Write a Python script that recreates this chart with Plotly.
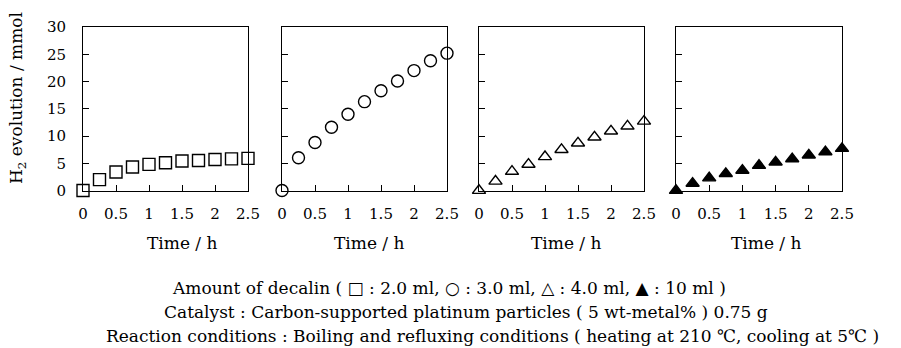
import plotly.graph_objects as go

# ---- data ----
time_h = [0, 0.25, 0.5, 0.75, 1.0, 1.25, 1.5, 1.75, 2.0, 2.25, 2.5]
h2_decalin_2ml = [0, 2.0, 3.4, 4.3, 4.8, 5.1, 5.4, 5.5, 5.7, 5.8, 5.9]
h2_decalin_3ml = [0, 6.0, 8.8, 11.6, 14.0, 16.3, 18.3, 20.1, 22.0, 23.8, 25.2]
h2_decalin_4ml = [0, 1.7, 3.5, 4.8, 6.2, 7.5, 8.7, 9.8, 10.9, 11.8, 12.7]
h2_decalin_10ml = [0, 1.3, 2.3, 3.1, 3.7, 4.6, 5.2, 5.8, 6.5, 7.1, 7.7]

x_tickvals = [0, 0.5, 1.0, 1.5, 2.0, 2.5]
x_ticktext = ["0", "0.5", "1", "1.5", "2", "2.5"]
y_tickvals = [0, 5, 10, 15, 20, 25, 30]
y_ticktext = ["0", "5", "10", "15", "20", "25", "30"]

x_title = "Time / h"
y_title = "H<sub>2</sub> evolution / mmol"
caption_lines = [
    "Amount of decalin ( □ : 2.0 ml, ○ : 3.0 ml, △ : 4.0 ml, ▲ : 10 ml )",
    "Catalyst : Carbon-supported platinum particles ( 5 wt-metal% ) 0.75 g",
    "Reaction conditions : Boiling and refluxing conditions ( heating at 210 ℃, cooling at 5℃ )",
]

series = [
    (h2_decalin_2ml, "square-open", 12),
    (h2_decalin_3ml, "circle-open", 12),
    (h2_decalin_4ml, "triangle-up-open", 11.5),
    (h2_decalin_10ml, "triangle-up", 11.5),
]

# ---- layout geometry (window pixels; body margin removed below) ----
FW, FH = 901, 348
FONT = "DejaVu Serif"


def fx(px):
    return px / FW


def fy(py):
    return 1 - py / FH


panels_px = [(83, 248), (282, 447), (479, 644), (676, 842)]
y_top_px, y_bot_px = 27, 190.5
xtitle_px = [182, 369, 566, 766]

fig = go.Figure()
layout = dict(
    width=FW, height=FH,
    margin=dict(l=0, r=0, t=0, b=0, autoexpand=False),
    paper_bgcolor="white", plot_bgcolor="white",
    showlegend=False,
    font=dict(family=FONT, size=15, color="black"),
)

ydom = [fy(y_bot_px), fy(y_top_px)]
annotations = []
for i, ((vals, sym, sz), (x0, x1)) in enumerate(zip(series, panels_px)):
    n = "" if i == 0 else str(i + 1)
    fig.add_trace(go.Scatter(
        x=time_h, y=vals, mode="markers", cliponaxis=False,
        xaxis="x" + n, yaxis="y" + n,
        marker=dict(symbol=sym, size=sz, color="black",
                    line=dict(color="black", width=1.4)),
    ))
    layout["xaxis" + n] = dict(
        domain=[fx(x0), fx(x1)], range=[0, 2.5], anchor="y" + n,
        tickvals=x_tickvals, ticktext=x_ticktext,
        ticks="inside", ticklen=6, tickcolor="black", tickwidth=1,
        showline=True, mirror=True, linecolor="black", linewidth=1,
        showgrid=False, zeroline=False, ticklabelstandoff=9,
        tickfont=dict(family=FONT, size=15, color="black"),
    )
    layout["yaxis" + n] = dict(
        domain=ydom, range=[0, 30], anchor="x" + n,
        tickvals=y_tickvals, ticktext=y_ticktext,
        ticks="inside", ticklen=6, tickcolor="black", tickwidth=1,
        showline=True, mirror=True, linecolor="black", linewidth=1,
        showgrid=False, zeroline=False,
        showticklabels=(i == 0), ticklabelstandoff=13,
        tickfont=dict(family=FONT, size=15, color="black"),
    )
    annotations.append(dict(
        text=x_title, xref="paper", yref="paper",
        x=fx(xtitle_px[i]), y=fy(243), xanchor="center", yanchor="middle",
        showarrow=False, font=dict(family=FONT, size=17, color="black"),
    ))

annotations.append(dict(
    text=y_title, xref="paper", yref="paper", textangle=-90,
    x=fx(18), y=fy(98), xanchor="center", yanchor="middle",
    showarrow=False, font=dict(family=FONT, size=17, color="black"),
))

caption_left = [170, 162, 104]
caption_y = [288, 312, 336]
for txt, xl, yc in zip(caption_lines, caption_left, caption_y):
    annotations.append(dict(
        text=txt, xref="paper", yref="paper",
        x=fx(xl), y=fy(yc), xanchor="left", yanchor="middle",
        showarrow=False, font=dict(family=FONT, size=17, color="black"),
    ))

layout["annotations"] = annotations
fig.update_layout(**layout)
fig.write_html(
    "out.html",
    config={"displayModeBar": False, "staticPlot": True},
    post_script="document.body.style.margin='0';document.body.style.overflow='hidden';",
)
